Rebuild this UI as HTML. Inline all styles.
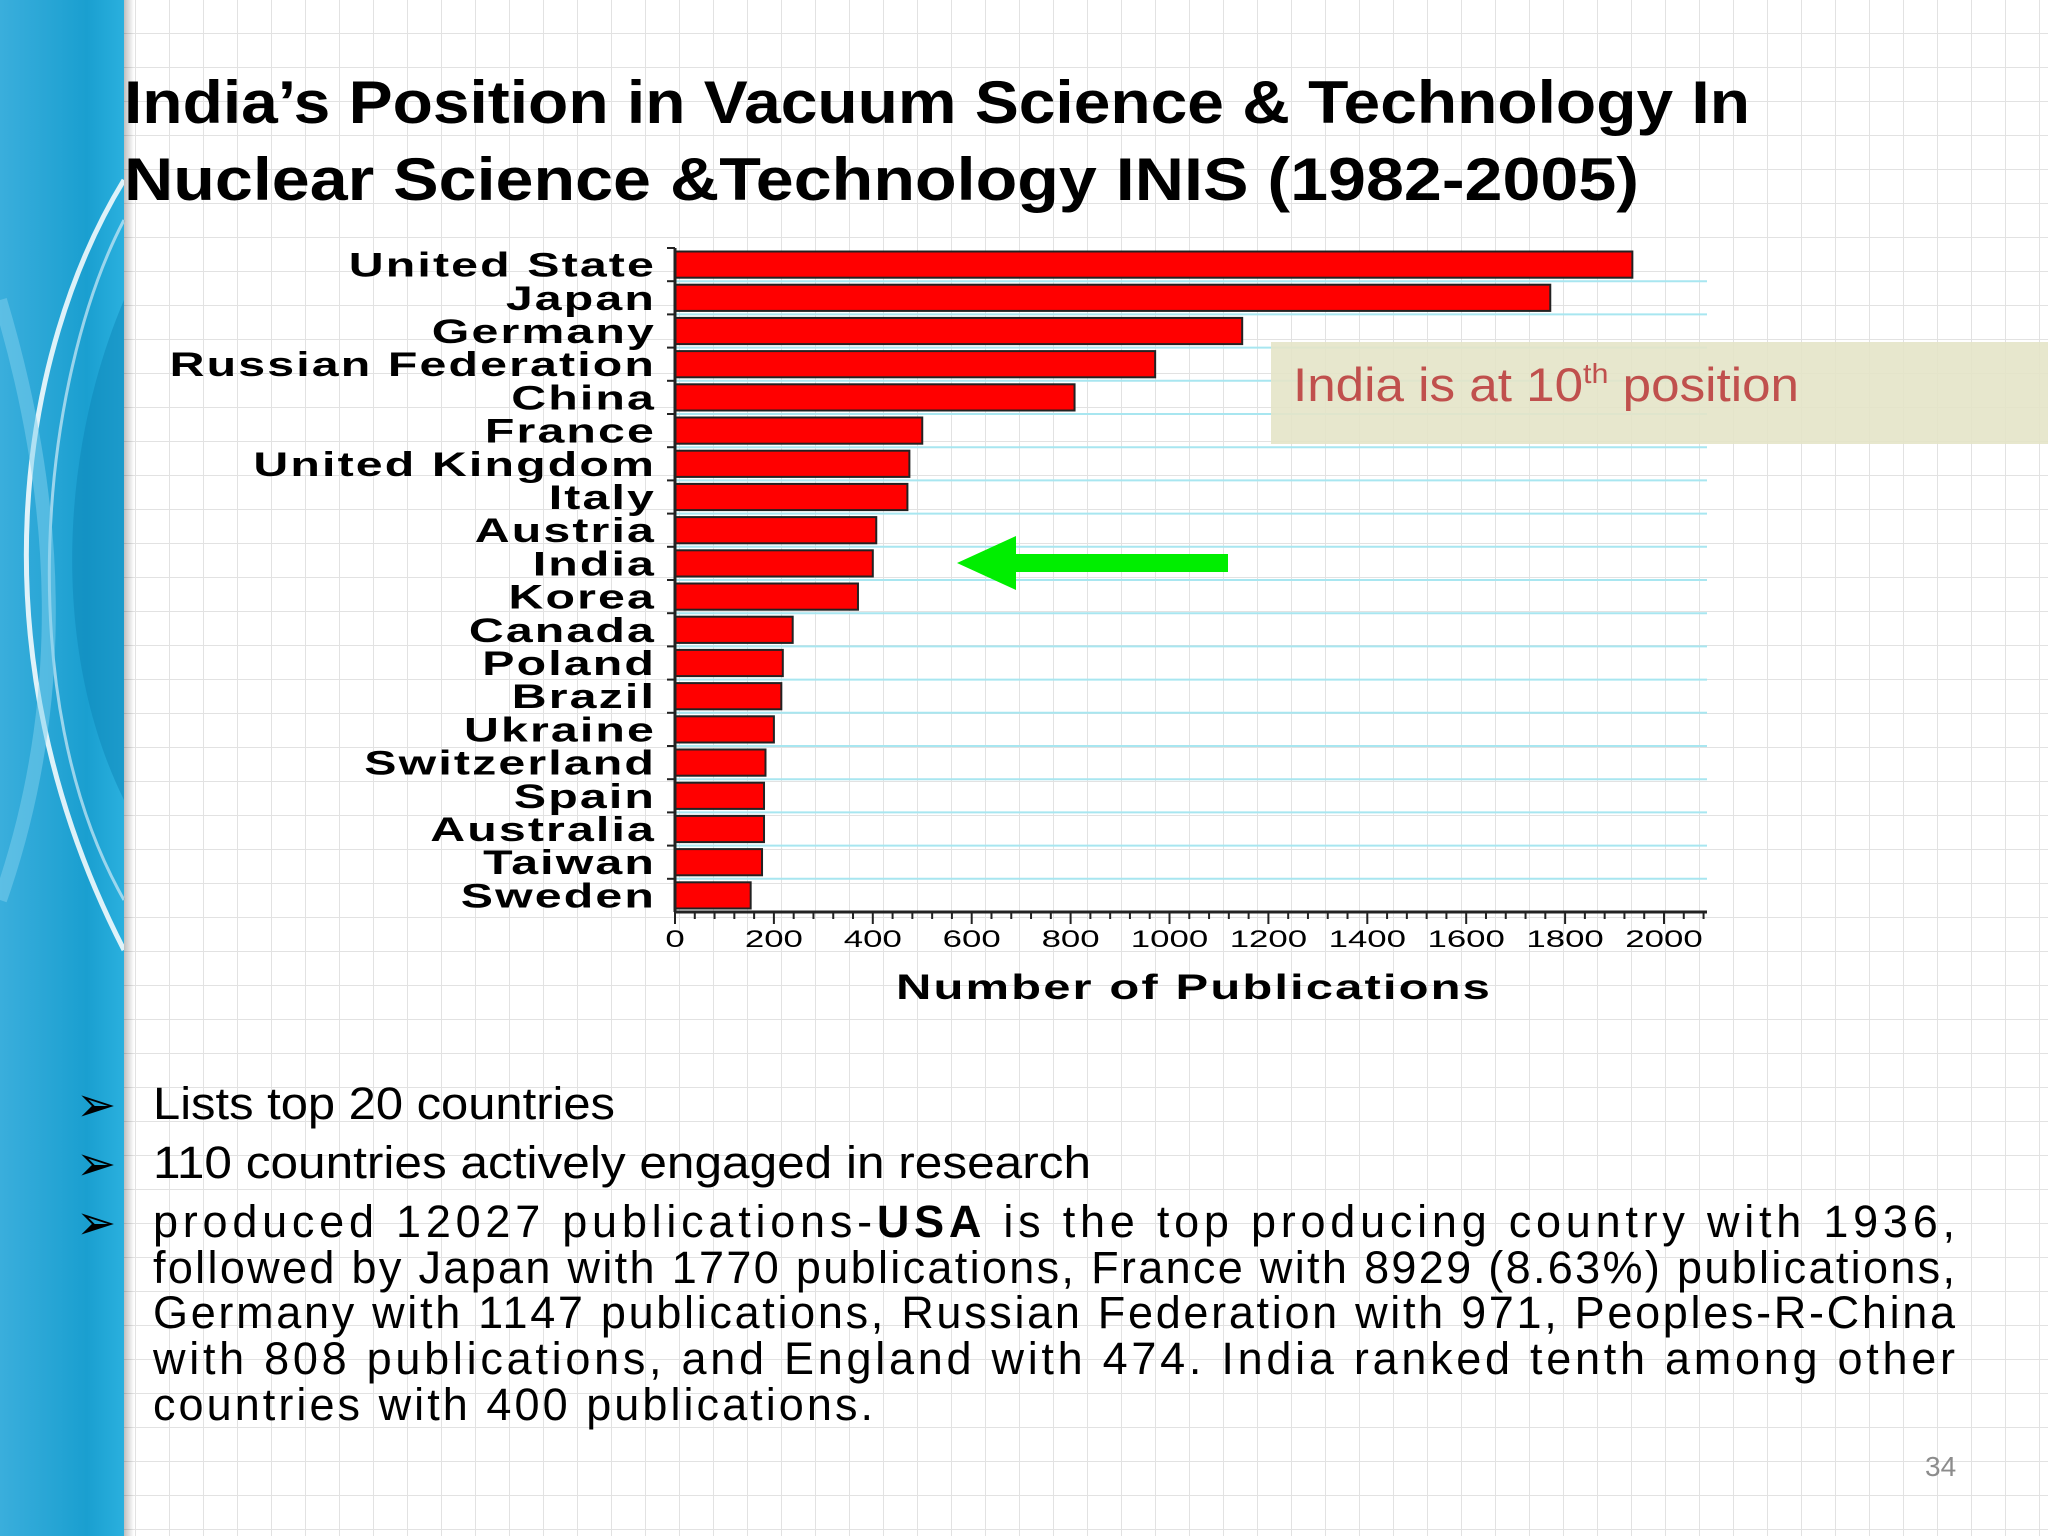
<!DOCTYPE html>
<html><head><meta charset="utf-8">
<style>
html,body{margin:0;padding:0;}
body{width:2048px;height:1536px;overflow:hidden;background:#fff;}
svg{display:block;font-family:"Liberation Sans",sans-serif;}
</style></head>
<body>
<svg id="page" width="2048" height="1536" viewBox="0 0 2048 1536" xmlns="http://www.w3.org/2000/svg">
<defs>
<pattern id="grid" width="34" height="34" patternUnits="userSpaceOnUse">
<path d="M34 0 V34 M0 34 H34" stroke="#e2e2e2" stroke-width="2" fill="none"/>
</pattern>
<linearGradient id="blue" x1="0" y1="0" x2="1" y2="0">
<stop offset="0" stop-color="#3aaedc"/><stop offset="0.7" stop-color="#1a9fd0"/><stop offset="1" stop-color="#2ab0de"/>
</linearGradient>
<linearGradient id="shadow" x1="0" y1="0" x2="1" y2="0">
<stop offset="0" stop-color="#000" stop-opacity="0.25"/><stop offset="1" stop-color="#000" stop-opacity="0"/>
</linearGradient>
</defs>
<rect x="0" y="0" width="2048" height="1536" fill="url(#grid)"/>
<g>
<rect x="0" y="0" width="124" height="1536" fill="url(#blue)"/>
<path d="M124 180 C20 350 -30 650 124 950" stroke="#fff" stroke-width="5" fill="none" opacity="0.85"/>
<path d="M124 220 C40 380 10 700 124 900" stroke="#cfeaf6" stroke-width="3" fill="none" opacity="0.7"/>
<path d="M0 300 C60 500 70 700 0 900" stroke="#7fd0ee" stroke-width="14" fill="none" opacity="0.5"/>
<path d="M124 300 C60 450 50 650 124 800 Z" fill="#0e86b8" opacity="0.5"/>
<rect x="124" y="0" width="10" height="1536" fill="url(#shadow)"/>
</g>
<g font-weight="bold" font-size="60" fill="#000">
<text x="124" y="123" textLength="1626" lengthAdjust="spacingAndGlyphs">India’s Position in Vacuum Science &amp; Technology In</text>
<text x="124" y="200" textLength="1515" lengthAdjust="spacingAndGlyphs">Nuclear Science &amp;Technology INIS (1982-2005)</text>
</g>
<g id="chart"></g>
<g>
<rect x="1271" y="342" width="777" height="102" fill="#e4e4c8" opacity="0.9"/>
<text x="1293" y="401" font-size="47" fill="#c0504d" textLength="506" lengthAdjust="spacingAndGlyphs">India is at 10<tspan font-size="28" dy="-18">th</tspan><tspan dy="18"> position</tspan></text>
</g>
<g fill="#00ee00">
<polygon points="957,563 1016,536 1016,554 1228,554 1228,572 1016,572 1016,590"/>
</g>
<g font-size="45" fill="#000">
<text x="76" y="1121" font-size="48">➢</text>
<text x="153" y="1119" textLength="462" lengthAdjust="spacingAndGlyphs">Lists top 20 countries</text>
<text x="76" y="1180" font-size="48">➢</text>
<text x="153" y="1178" textLength="938" lengthAdjust="spacingAndGlyphs">110 countries actively engaged in  research</text>
<text x="76" y="1239" font-size="48">➢</text>
<text x="153" y="1237" textLength="1802" lengthAdjust="spacing">produced 12027 publications-<tspan font-weight="bold">USA</tspan> is the top producing country with 1936,</text>
<text x="153" y="1283" textLength="1802" lengthAdjust="spacing">followed by Japan with 1770 publications, France with 8929 (8.63%) publications,</text>
<text x="153" y="1328" textLength="1802" lengthAdjust="spacing">Germany with 1147 publications, Russian Federation with 971, Peoples-R-China</text>
<text x="153" y="1374" textLength="1802" lengthAdjust="spacing">with 808 publications, and England with 474. India ranked tenth among other</text>
<text x="153" y="1420" textLength="720" lengthAdjust="spacing">countries with 400  publications.</text>
</g>
<text x="1925" y="1476" font-size="28" fill="#8c8c8c">34</text>
</svg>
<script>
const categories = ["United State","Japan","Germany","Russian Federation","China","France","United Kingdom","Italy","Austria","India","Korea","Canada","Poland","Brazil","Ukraine","Switzerland","Spain","Australia","Taiwan","Sweden"];
const publications = [1936,1770,1147,971,808,500,474,470,407,400,370,238,218,215,200,183,180,180,176,153];
const tickLabels = ["0","200","400","600","800","1000","1200","1400","1600","1800","2000"];
const tickValues = [0,200,400,600,800,1000,1200,1400,1600,1800,2000];

const NS = "http://www.w3.org/2000/svg";
const chart = document.getElementById("chart");
const X0 = 675, XPER = (1664 - 675) / 2000, XMAXPX = 1707;
const YTOP = 248, YBOT = 912;
const band = (YBOT - YTOP) / categories.length;
const xScale = v => X0 + v * XPER;
const yScale = i => YTOP + i * band;
function mk(tag, attrs, parent) {
  const e = document.createElementNS(NS, tag);
  for (const k in attrs) e.setAttribute(k, attrs[k]);
  (parent || chart).appendChild(e);
  return e;
}
function wide(x, s) { return "translate(" + x + ",0) scale(" + s + ",1) translate(" + (-x) + ",0)"; }
for (let i = 1; i < categories.length; i++) {
  const l = mk("line", {x1: X0, x2: XMAXPX, y1: yScale(i), y2: yScale(i), stroke: "#a8e6f0", "stroke-width": 2});
  
  
}
categories.forEach((c, i) => {
  const y = yScale(i);
  const r = mk("rect", {x: X0, y: y + 3.5, width: xScale(publications[i]) - X0, height: band - 7, fill: "#ff0000", stroke: "#222", "stroke-width": 2});
  
  
  const t = mk("text", {x: 656, y: y + band / 2 + 12, "text-anchor": "end", "font-size": 34, "font-weight": "bold", fill: "#000", "letter-spacing": "1.5", transform: wide(656, 1.42)});
  t.textContent = c;
  
  
  const tk = mk("line", {x1: X0 - 8, x2: X0, y1: y, y2: y, stroke: "#222", "stroke-width": 2});
  
  
});
const ya = mk("line", {x1: X0, x2: X0, y1: YTOP, y2: YBOT, stroke: "#222", "stroke-width": 3});


const xa = mk("line", {x1: X0, x2: XMAXPX, y1: YBOT, y2: YBOT, stroke: "#222", "stroke-width": 3});


for (let v = 0; v <= 2080; v += 40) {
  const major = v % 200 === 0;
  const m = mk("line", {x1: xScale(v), x2: xScale(v), y1: YBOT, y2: YBOT + (major ? 12 : 7), stroke: "#222", "stroke-width": 2});
  
  
}
tickValues.forEach((v, i) => {
  const t = mk("text", {x: xScale(v), y: 947, "text-anchor": "middle", "font-size": 24, fill: "#000", transform: wide(xScale(v), 1.45)});
  t.textContent = tickLabels[i];
  
  
});
const at = mk("text", {x: 1194, y: 999, "text-anchor": "middle", "font-size": 35, "font-weight": "bold", fill: "#000", "letter-spacing": "1.5", transform: wide(1194, 1.4)});
at.textContent = "Number of Publications";


</script>
</body></html>
